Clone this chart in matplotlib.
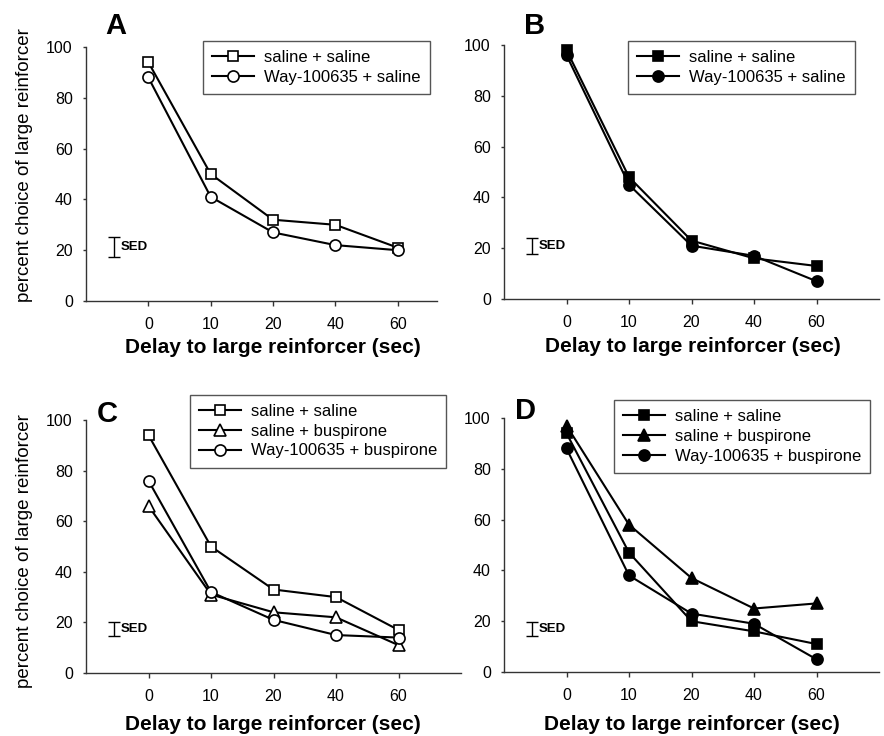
import matplotlib
matplotlib.use("Agg")
import matplotlib.pyplot as plt

plt.rcParams["font.family"] = ["Liberation Sans", "DejaVu Sans"]

delays = ["0", "10", "20", "40", "60"]

# panel A (open symbols)
a_sal_sal = [94, 50, 32, 30, 21]
a_way_sal = [88, 41, 27, 22, 20]
# panel B (filled symbols)
b_sal_sal = [98, 48, 23, 16, 13]
b_way_sal = [96, 45, 21, 17, 7]
# panel C (open symbols)
c_sal_sal = [94, 50, 33, 30, 17]
c_sal_bus = [66, 31, 24, 22, 11]
c_way_bus = [76, 32, 21, 15, 14]
# panel D (filled symbols)
d_sal_sal = [94, 47, 20, 16, 11]
d_sal_bus = [97, 58, 37, 25, 27]
d_way_bus = [88, 38, 23, 19, 5]

# SED bars: (centre, half-length)
sed = {"A": (21.3, 3.8), "B": (21.0, 3.2), "C": (17.4, 2.8), "D": (17.0, 2.8)}

W, H = 884, 736
fig = plt.figure(figsize=(W / 100, H / 100), dpi=100)


def px_axes(l, r, t, b):
    return fig.add_axes([l / W, 1 - b / H, (r - l) / W, (b - t) / H])


panels = {
    "A": dict(box=(86, 437, 47, 301), xmax=4.63, leg=(203, 41), letter=(105, 12),
              xl=(0.533, -0.146), yl=(-0.152, 0.535),
              series=[(a_sal_sal, "s", "white", 7, "saline + saline"),
                      (a_way_sal, "o", "white", 8, "Way-100635 + saline")]),
    "B": dict(box=(504, 879, 45, 299), xmax=5.0, leg=(628, 41), letter=(524, 12),
              xl=(0.503, -0.15), yl=None,
              series=[(b_sal_sal, "s", "black", 7, "saline + saline"),
                      (b_way_sal, "o", "black", 8, "Way-100635 + saline")]),
    "C": dict(box=(86, 461, 420, 673), xmax=5.0, leg=(190, 395), letter=(97, 400),
              xl=(0.499, -0.166), yl=(-0.142, 0.482),
              series=[(c_sal_sal, "s", "white", 7, "saline + saline"),
                      (c_sal_bus, "^", "white", 8.5, "saline + buspirone"),
                      (c_way_bus, "o", "white", 8, "Way-100635 + buspirone")]),
    "D": dict(box=(504, 879, 418, 672), xmax=5.0, leg=(614, 400), letter=(515, 397),
              xl=(0.502, -0.169), yl=None,
              series=[(d_sal_sal, "s", "black", 7, "saline + saline"),
                      (d_sal_bus, "^", "black", 8.5, "saline + buspirone"),
                      (d_way_bus, "o", "black", 8, "Way-100635 + buspirone")]),
}

for name, p in panels.items():
    ax = px_axes(*p["box"])
    x = range(len(delays))
    for vals, mk, fc, ms, lab in p["series"]:
        ax.plot(x, vals, "-", color="black", lw=1.5, marker=mk, ms=ms,
                mfc=fc, mec="black", mew=1.2, label=lab, clip_on=False)

    c, h = sed[name]
    ax.errorbar([-0.55], [c], yerr=[h], fmt="none", ecolor="black",
                elinewidth=1, capsize=4, capthick=1)
    ax.text(-0.45, c, "SED", fontsize=9.5, fontweight="bold", va="center", ha="left")

    ax.set_xlim(-1, p["xmax"])
    ax.set_ylim(0, 100)
    ax.set_xticks(list(x))
    ax.set_xticklabels(delays)
    ax.set_yticks([0, 20, 40, 60, 80, 100])
    ax.tick_params(axis="y", labelsize=11.5, length=2.5, width=1, pad=7, color="#333333")
    ax.tick_params(axis="x", labelsize=11.5, length=3.5, width=1, pad=8, color="#333333")
    for s in ("top", "right"):
        ax.spines[s].set_visible(False)
    for s in ("left", "bottom"):
        ax.spines[s].set_color("#333333")
        ax.spines[s].set_linewidth(1)

    ax.set_xlabel("Delay to large reinforcer (sec)", fontsize=15, fontweight="bold")
    ax.xaxis.set_label_coords(*p["xl"])
    if p["yl"] is not None:
        ax.set_ylabel("percent choice of large reinforcer", fontsize=13.5)
        ax.yaxis.set_label_coords(*p["yl"])

    lx, ly = p["leg"]
    leg = ax.legend(loc="upper left", bbox_to_anchor=(lx / W, 1 - ly / H),
                    bbox_transform=fig.transFigure, borderaxespad=0, fontsize=12,
                    frameon=True, fancybox=False, edgecolor="#555555",
                    framealpha=1, handlelength=2.5, handletextpad=0.6,
                    borderpad=0.55, labelspacing=0.28)
    leg.get_frame().set_linewidth(1)

    tx, ty = p["letter"]
    fig.text(tx / W, 1 - ty / H, name, fontsize=21, fontweight="bold",
             ha="left", va="top")

fig.savefig("out.png", dpi=100)
